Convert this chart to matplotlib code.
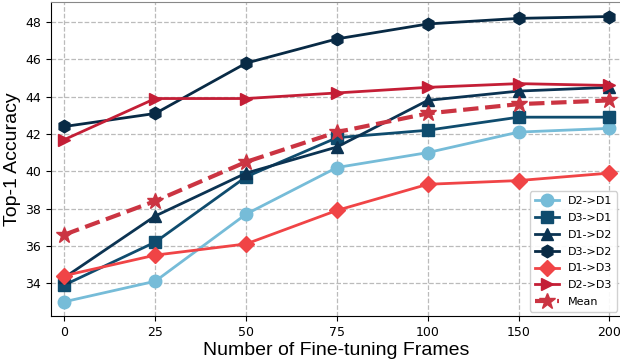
import matplotlib
matplotlib.use("Agg")
import matplotlib.pyplot as plt
import numpy as np

frames = ["0", "25", "50", "75", "100", "150", "200"]
d2_d1 = [33.0, 34.1, 37.7, 40.2, 41.0, 42.1, 42.3]
d3_d1 = [33.9, 36.2, 39.7, 41.8, 42.2, 42.9, 42.9]
d1_d2 = [34.3, 37.6, 39.9, 41.3, 43.8, 44.3, 44.5]
d3_d2 = [42.4, 43.1, 45.8, 47.1, 47.9, 48.2, 48.3]
d1_d3 = [34.4, 35.5, 36.1, 37.9, 39.3, 39.5, 39.9]
d2_d3 = [41.7, 43.9, 43.9, 44.2, 44.5, 44.7, 44.6]
mean = [36.6, 38.4, 40.5, 42.1, 43.1, 43.6, 43.8]

fig = plt.figure(figsize=(6.2, 3.6), dpi=100)
ax = fig.add_axes([0.082, 0.122, 0.92, 0.872])
x = np.arange(len(frames))

ms = 9
ax.plot(x, d2_d1, marker="o", color="#76bcd8", lw=2, ms=ms, label="D2->D1", zorder=3)
ax.plot(x, d3_d1, marker="s", color="#0f4c6e", lw=2, ms=ms, label="D3->D1", zorder=3)
ax.plot(x, d1_d2, marker="^", color="#0b3352", lw=2, ms=ms, label="D1->D2", zorder=3)
ax.plot(x, d3_d2, marker="h", color="#082a45", lw=2, ms=ms, label="D3->D2", zorder=3)
ax.plot(x, d1_d3, marker="D", color="#f04446", lw=2, ms=ms - 1, label="D1->D3", zorder=3)
ax.plot(x, d2_d3, marker=">", color="#c41e36", lw=2, ms=ms, label="D2->D3", zorder=3)
ax.plot(x, mean, marker="*", color="#cb3442", lw=3, ls="--", ms=12, label="Mean", zorder=4)

ax.set_xticks(x)
ax.set_xticklabels(frames)
ax.set_yticks([34, 36, 38, 40, 42, 44, 46, 48])
ax.set_xlim(-0.15, 6.13)
ax.set_ylim(32.23, 49.07)
ax.grid(True, ls="--", color="#bbbbbb", lw=0.9)
ax.tick_params(labelsize=9)
ax.set_xlabel("Number of Fine-tuning Frames", fontsize=14, family="Liberation Sans", labelpad=2)
ax.set_ylabel("Top-1 Accuracy", fontsize=14, family="Liberation Sans", labelpad=3)
for s in ["top", "right"]:
    ax.spines[s].set_color("#888888")
ax.legend(loc="lower right", fontsize=8, handlelength=2.2, borderpad=0.4,
          labelspacing=0.62, framealpha=0.9, borderaxespad=0.4)

fig.savefig("out.png", dpi=100)
